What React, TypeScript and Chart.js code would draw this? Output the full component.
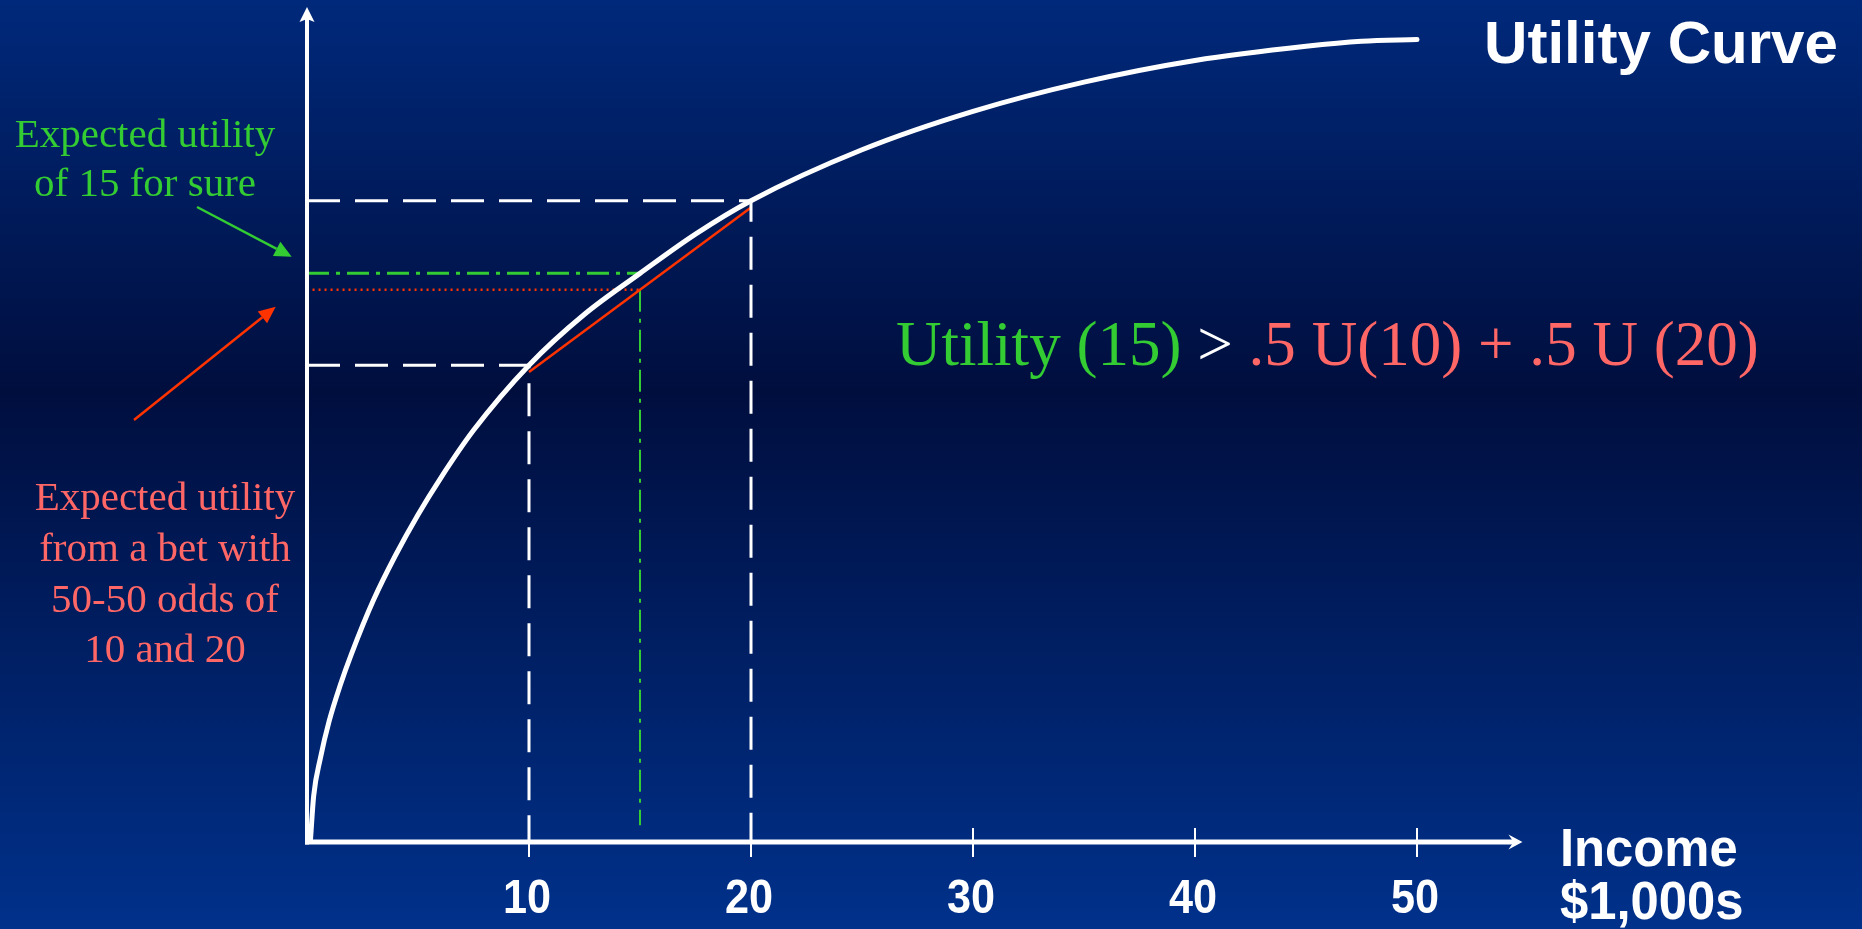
import React, { useEffect, useRef } from "react";
import { Chart, registerables } from "chart.js";

Chart.register(...registerables);

// Utility curve: income (thousands of dollars) against utility
const incomePoints = [0.15, 0.3, 0.6, 1.0, 1.5, 2.0, 3.0, 4.0, 5.0, 6.0, 7.5, 10, 12.5, 15, 17.5, 20, 25, 30, 35, 40, 45, 47.5, 50];
const utilityPoints = [0, 5.5, 10.0, 14.5, 18.8, 22.5, 29.0, 34.4, 39.2, 43.5, 49.3, 57.1, 63.2, 68.1, 72.8, 76.8, 82.9, 87.5, 91.0, 93.6, 95.3, 95.9, 96.1];

const incomeTicks = [10, 20, 30, 40, 50];

// The gamble: 10 or 20 with equal odds, against 15 for sure
const lowIncome = 10;
const highIncome = 20;
const sureIncome = 15;
const utilityLow = 57.1;
const utilityHigh = 76.8;
const utilitySure = 68.1;
const chordUtility = [56.3, 76.0];
const expectedUtility = (chordUtility[0] + chordUtility[1]) / 2;

const xAxisMax = 55;
const xAxisArrowEnd = 54.75;
const yAxisMax = 100;
const sureDropEnd = 2.0;
const dottedStart = 0.25;

const WHITE = "#ffffff";
const GREEN = "#33cc33";
const SALMON = "#ff6666";
const RED = "#ff3300";

const SERIF = '"Liberation Serif", "Times New Roman", serif';
const SANS = '"Liberation Sans", Arial, sans-serif';

const background = {
  id: "slideBackground",
  beforeDraw(chart: any) {
    const { ctx, width, height } = chart;
    const g = ctx.createLinearGradient(0, 0, 0, height);
    g.addColorStop(0, "#00297b");
    g.addColorStop(0.42, "#000e3e");
    g.addColorStop(1, "#00318b");
    ctx.save();
    ctx.fillStyle = g;
    ctx.fillRect(0, 0, width, height);
    ctx.restore();
  },
};

function arrow(ctx: CanvasRenderingContext2D, x1: number, y1: number, x2: number, y2: number, color: string, head: number, halfW: number) {
  const ang = Math.atan2(y2 - y1, x2 - x1);
  const bx = x2 - Math.cos(ang) * head;
  const by = y2 - Math.sin(ang) * head;
  ctx.save();
  ctx.strokeStyle = color;
  ctx.fillStyle = color;
  ctx.lineWidth = 2.5;
  ctx.beginPath();
  ctx.moveTo(x1, y1);
  ctx.lineTo(bx, by);
  ctx.stroke();
  ctx.beginPath();
  ctx.moveTo(x2, y2);
  ctx.lineTo(bx + Math.sin(ang) * halfW, by - Math.cos(ang) * halfW);
  ctx.lineTo(bx - Math.sin(ang) * halfW, by + Math.cos(ang) * halfW);
  ctx.closePath();
  ctx.fill();
  ctx.restore();
}

function fitFont(ctx: CanvasRenderingContext2D, text: string, weight: string, family: string, base: number, target: number) {
  ctx.font = `${weight} ${base}px ${family}`;
  const w = ctx.measureText(text).width;
  return (base * target) / w;
}

// condensed text: draws at a given horizontal squeeze
function squeezedText(ctx: CanvasRenderingContext2D, text: string, x: number, y: number, sx: number, align: CanvasTextAlign) {
  ctx.save();
  ctx.translate(x, y);
  ctx.scale(sx, 1);
  ctx.textAlign = align;
  ctx.fillText(text, 0, 0);
  ctx.restore();
}

const overlay = {
  id: "axesAndNotes",
  afterDatasetsDraw(chart: any) {
    const ctx: CanvasRenderingContext2D = chart.ctx;
    const xs = chart.scales.x;
    const ys = chart.scales.y;
    const x0 = xs.getPixelForValue(0);
    const y0 = ys.getPixelForValue(0);
    const xEnd = xs.getPixelForValue(xAxisArrowEnd);
    const yEnd = ys.getPixelForValue(yAxisMax);

    ctx.save();
    ctx.strokeStyle = WHITE;
    ctx.fillStyle = WHITE;
    ctx.lineCap = "butt";

    // vertical axis with arrow
    ctx.lineWidth = 4;
    ctx.beginPath();
    ctx.moveTo(x0, y0 + 2.5);
    ctx.lineTo(x0, yEnd + 12);
    ctx.stroke();
    ctx.beginPath();
    ctx.moveTo(x0, yEnd);
    ctx.lineTo(x0 + 7.5, yEnd + 15);
    ctx.lineTo(x0, yEnd + 12);
    ctx.lineTo(x0 - 7.5, yEnd + 15);
    ctx.closePath();
    ctx.fill();

    // horizontal axis with arrow
    ctx.lineWidth = 5;
    ctx.beginPath();
    ctx.moveTo(x0 - 2, y0);
    ctx.lineTo(xEnd - 6, y0);
    ctx.stroke();
    ctx.beginPath();
    ctx.moveTo(xEnd, y0);
    ctx.lineTo(xEnd - 14, y0 - 7.5);
    ctx.lineTo(xEnd - 9, y0);
    ctx.lineTo(xEnd - 14, y0 + 7.5);
    ctx.closePath();
    ctx.fill();

    // tick marks and labels
    ctx.lineWidth = 2;
    ctx.font = `bold 48px ${SANS}`;
    ctx.textBaseline = "alphabetic";
    for (const t of incomeTicks) {
      const px = xs.getPixelForValue(t);
      ctx.beginPath();
      ctx.moveTo(px, y0 - 14);
      ctx.lineTo(px, y0 + 15);
      ctx.stroke();
      squeezedText(ctx, String(t), px - 2, 913, 0.9, "center");
    }

    // axis caption
    ctx.font = `bold 54px ${SANS}`;
    squeezedText(ctx, "Income", 1560, 866, 0.94, "left");
    squeezedText(ctx, "$1,000s", 1560, 919, 0.94, "left");

    // title
    ctx.textAlign = "left";
    const titleSize = fitFont(ctx, "Utility Curve", "bold", SANS, 60, 354);
    ctx.font = `bold ${titleSize}px ${SANS}`;
    ctx.fillText("Utility Curve", 1484, 63);

    // inequality
    const parts: [string, string][] = [
      ["Utility (15)", GREEN],
      [" > ", WHITE],
      [".5 U(10) + .5 U (20)", SALMON],
    ];
    const eqText = parts.map((p) => p[0]).join("");
    const eqSize = fitFont(ctx, eqText, "normal", SERIF, 65, 863);
    ctx.font = `normal ${eqSize}px ${SERIF}`;
    let cx = 896;
    for (const [txt, col] of parts) {
      ctx.fillStyle = col;
      ctx.fillText(txt, cx, 365);
      cx += ctx.measureText(txt).width;
    }

    // side notes
    ctx.textAlign = "center";
    ctx.font = `normal 41px ${SERIF}`;
    ctx.fillStyle = GREEN;
    ctx.fillText("Expected utility", 145, 147);
    ctx.fillText("of 15 for sure", 145, 196);
    ctx.fillStyle = SALMON;
    const betLines = ["Expected utility", "from a bet with", "50-50 odds of", "10 and 20"];
    betLines.forEach((l, i) => ctx.fillText(l, 165, 510 + i * 50.8));
    ctx.restore();

    arrow(ctx, 197, 207, 291.7, 256.7, GREEN, 17, 8);
    arrow(ctx, 134, 420, 275.7, 306.7, RED, 17, 7.5);
  },
};

export default function App() {
  const ref = useRef<HTMLCanvasElement | null>(null);

  useEffect(() => {
    if (!ref.current) return;
    const curve = incomePoints.map((x, i) => ({ x, y: utilityPoints[i] }));
    const chart = new Chart(ref.current, {
      type: "line",
      data: {
        datasets: [
          {
            label: "Utility",
            data: curve,
            borderColor: WHITE,
            borderWidth: 5,
            cubicInterpolationMode: "monotone",
            borderCapStyle: "round",
            borderJoinStyle: "round",
            pointRadius: 0,
          },
          {
            label: "U(20)",
            data: [
              { x: 0, y: utilityHigh },
              { x: highIncome, y: utilityHigh },
              { x: highIncome, y: 0 },
            ],
            borderColor: WHITE,
            borderWidth: 3,
            borderDash: [33, 15],
            pointRadius: 0,
          },
          {
            label: "U(10)",
            data: [
              { x: 0, y: utilityLow },
              { x: lowIncome, y: utilityLow },
              { x: lowIncome, y: 0 },
            ],
            borderColor: WHITE,
            borderWidth: 3,
            borderDash: [33, 15],
            pointRadius: 0,
          },
          {
            label: "Bet",
            data: [
              { x: lowIncome, y: chordUtility[0] },
              { x: highIncome, y: chordUtility[1] },
            ],
            borderColor: RED,
            borderWidth: 2.5,
            pointRadius: 0,
          },
          {
            label: "Expected utility of bet",
            data: [
              { x: dottedStart, y: expectedUtility },
              { x: sureIncome, y: expectedUtility },
            ],
            borderColor: RED,
            borderWidth: 2.5,
            borderDash: [2, 4],
            pointRadius: 0,
          },
          {
            label: "Utility of 15",
            data: [
              { x: 0, y: utilitySure },
              { x: sureIncome, y: utilitySure },
            ],
            borderColor: GREEN,
            borderWidth: 3,
            borderDash: [22, 7, 4, 7],
            pointRadius: 0,
          },
          {
            label: "Income 15",
            data: [
              { x: sureIncome, y: expectedUtility },
              { x: sureIncome, y: sureDropEnd },
            ],
            borderColor: GREEN,
            borderWidth: 2,
            borderDash: [22, 7, 4, 7],
            pointRadius: 0,
          },
        ],
      },
      options: {
        responsive: false,
        animation: false,
        layout: { padding: { left: 307, top: 7, right: 334, bottom: 87 } },
        scales: {
          x: { type: "linear", min: 0, max: xAxisMax, display: false },
          y: { type: "linear", min: 0, max: yAxisMax, display: false },
        },
        plugins: { legend: { display: false }, tooltip: { enabled: false } },
        elements: { point: { radius: 0 } },
      },
      plugins: [background, overlay],
    });
    return () => chart.destroy();
  }, []);

  return (
    <div style={{ position: "fixed", left: 0, top: 0, width: 1862, height: 929 }}>
      <canvas ref={ref} width={1862} height={929} style={{ display: "block" }} />
    </div>
  );
}
